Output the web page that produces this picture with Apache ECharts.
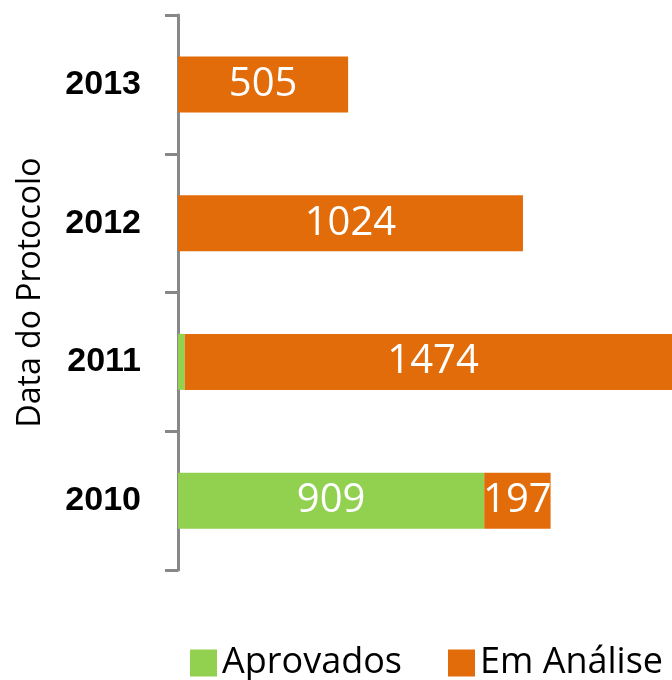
<!DOCTYPE html>
<html>
<head>
<meta charset="utf-8">
<script src="https://cdn.jsdelivr.net/npm/echarts@6/dist/echarts.min.js"></script>
<style>
html,body{margin:0;padding:0;background:#fff;overflow:hidden;width:672px;height:680px;}
#chart{width:717px;height:680px;}
</style>
</head>
<body>
<div id="chart"></div>
<script>
var categories = ['2010', '2011', '2012', '2013'];
var aprovados = [909, 20, 0, 0];
var emAnalise = [197, 1474, 1024, 505];
var seriesNames = ['Aprovados', 'Em Análise'];
var axisTitle = 'Data do Protocolo';

function toData(arr) {
  return arr.map(function (v) {
    return { value: v, label: { show: v >= 100 } };
  });
}

var chart = echarts.init(document.getElementById('chart'), null, { renderer: 'canvas' });
var labelStyle = {
  show: true,
  position: 'inside',
  color: '#ffffff',
  fontFamily: 'Open Sans',
  fontSize: 40
};
chart.setOption({
  animation: false,
  backgroundColor: '#ffffff',
  grid: { left: 178, top: 15, bottom: 110, right: 0, containLabel: false },
  legend: {
    left: 185,
    top: 640,
    itemWidth: 27,
    itemHeight: 27,
    itemGap: 46,
    icon: 'rect',
    textStyle: { fontFamily: 'Open Sans', fontSize: 36, color: '#000' },
    data: seriesNames
  },
  xAxis: {
    type: 'value',
    min: 0,
    max: 1600,
    show: false
  },
  yAxis: {
    type: 'category',
    data: categories,
    name: axisTitle,
    nameLocation: 'middle',
    nameRotate: 90,
    nameGap: 131,
    nameTextStyle: { fontFamily: 'Open Sans', fontSize: 32, color: '#000' },
    axisLine: { show: true, lineStyle: { color: '#888888', width: 3 } },
    axisTick: { show: true, length: 13, lineStyle: { color: '#888888', width: 3 } },
    axisLabel: {
      margin: 37,
      fontFamily: 'Liberation Sans',
      fontWeight: 'bold',
      fontSize: 34,
      color: '#000'
    },
    splitLine: { show: false }
  },
  series: [
    {
      name: seriesNames[0],
      type: 'bar',
      stack: 'total',
      barWidth: 56,
      itemStyle: { color: '#92D050' },
      label: labelStyle,
      data: toData(aprovados)
    },
    {
      name: seriesNames[1],
      type: 'bar',
      stack: 'total',
      barWidth: 56,
      itemStyle: { color: '#E36C0A' },
      label: labelStyle,
      data: toData(emAnalise)
    }
  ]
});
</script>
</body>
</html>
